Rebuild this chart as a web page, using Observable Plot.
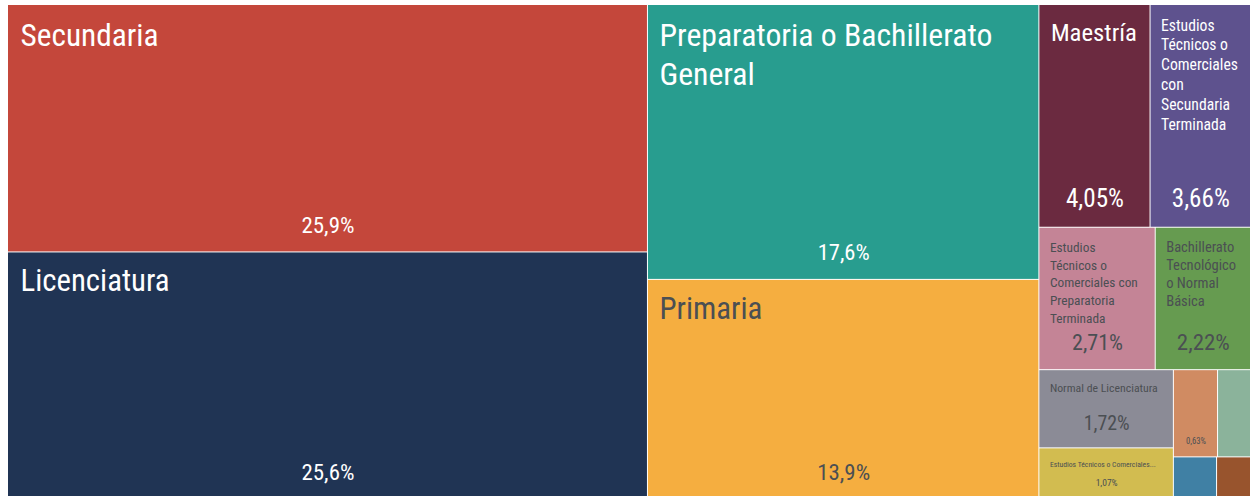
<!DOCTYPE html>
<html>
<head>
<meta charset="utf-8">
<script src="https://cdn.jsdelivr.net/npm/d3@7"></script>
<script src="https://cdn.jsdelivr.net/npm/@observablehq/plot@0.6"></script>
<style>
  html, body { margin: 0; padding: 0; background: #ffffff; }
  #chart svg { display: block; }
</style>
</head>
<body>
<div id="chart"></div>
<script>
// ---- data ----
const categories = [
  "Secundaria",
  "Licenciatura",
  "Preparatoria o Bachillerato General",
  "Primaria",
  "Maestría",
  "Estudios Técnicos o Comerciales con Secundaria Terminada",
  "Estudios Técnicos o Comerciales con Preparatoria Terminada",
  "Bachillerato Tecnológico o Normal Básica",
  "Normal de Licenciatura",
  "Estudios Técnicos o Comerciales con Primaria Terminada",
  "Especialidad",
  "Doctorado",
  "Ninguno",
  "Preescolar"
];
const shares = [25.9, 25.6, 17.6, 13.9, 4.05, 3.66, 2.71, 2.22, 1.72, 1.07, 0.63, 0.47, 0.28, 0.22];
const colors = [
  "#C4473B", "#203454", "#289D8F", "#F5AE40", "#6B2A40", "#5E528E", "#C48496",
  "#669B50", "#8B8B96", "#D2BC50", "#D08B62", "#8BB39B", "#4080A4", "#98542D"
];
// text shown inside each cell (line breaks as drawn); null = no name shown
const shownNames = [
  "Secundaria",
  "Licenciatura",
  "Preparatoria o Bachillerato\nGeneral",
  "Primaria",
  "Maestría",
  "Estudios\nTécnicos o\nComerciales\ncon\nSecundaria\nTerminada",
  "Estudios\nTécnicos o\nComerciales con\nPreparatoria\nTerminada",
  "Bachillerato\nTecnológico\no Normal\nBásica",
  "Normal de Licenciatura",
  "Estudios Técnicos o Comerciales...",
  null, null, null, null
];
const showShare = [true, true, true, true, true, true, true, true, true, true, true, false, false, false];

// ---- label styling (separate from data) ----
// w: pixel width of the widest line, b: first baseline below cell top,
// ls: line spacing (px), dx: left inset
const nameStyle = [
  {w: 138, b: 40, ls: 40, dx: 12},
  {w: 149, b: 38, ls: 40, dx: 12},
  {w: 333, b: 40, ls: 40, dx: 11},
  {w: 103, b: 39, ls: 40, dx: 11},
  {w: 86,  b: 35, ls: 30, dx: 11},
  {w: 77,  b: 25, ls: 20, dx: 10},
  {w: 88,  b: 24, ls: 17.6, dx: 10},
  {w: 70,  b: 24, ls: 18, dx: 10},
  {w: 108, b: 21, ls: 14, dx: 10},
  {w: 106, b: 18, ls: 10, dx: 10}
];
// w: pixel width of the share label, b: baseline above cell bottom
const shareStyle = [
  {w: 53, b: 19}, {w: 53, b: 17}, {w: 52, b: 19}, {w: 53, b: 17},
  {w: 58, b: 20}, {w: 58, b: 20}, {w: 51, b: 20}, {w: 53, b: 20},
  {w: 46, b: 18}, {w: 22, b: 11}, {w: 20, b: 13}
];

const W = 1250, H = 496;
const padLeft = 8, padTop = 5;
const innerW = W - padLeft, innerH = H - padTop;

// ---- pick the narrowest available sans close to the reference's condensed face ----
function textWidth(str, family, stretch) {
  const svg = d3.select("body").append("svg").attr("width", 1).attr("height", 1)
    .style("position", "absolute").style("left", "-9999px");
  const t = svg.append("text").attr("font-size", 100)
    .style("font-family", family).style("font-stretch", stretch).text(str);
  const w = t.node().getComputedTextLength();
  svg.remove();
  return w / 100;
}
const candidates = [
  {family: "'Fira Sans Condensed'", stretch: "normal"},
  {family: "'Liberation Sans Narrow'", stretch: "normal"},
  {family: "'DejaVu Sans Condensed'", stretch: "normal"},
  {family: "'Roboto Condensed'", stretch: "normal"},
  {family: "'Open Sans'", stretch: "75%"},
  {family: "'Noto Sans'", stretch: "75%"},
  {family: "Roboto", stretch: "75%"},
  {family: "'DejaVu Sans'", stretch: "condensed"},
  {family: "'Liberation Sans'", stretch: "condensed"},
  {family: "Lato", stretch: "normal"},
  {family: "Roboto", stretch: "normal"}
];
const targetEm = 9.9; // "Preparatoria o Bachillerato" width in em (cap height ~0.715em)
let chosen = candidates[candidates.length - 1], best = Infinity;
for (const c of candidates) {
  const w = textWidth("Preparatoria o Bachillerato", c.family, c.stretch);
  const err = Math.abs(w - targetEm);
  if (err < best - 0.05) { best = err; chosen = c; }
}
const FONT = chosen.family + ", sans-serif";
const fitSize = (str, px) => px / textWidth(str, FONT, chosen.stretch);

// ---- treemap layout (d3 squarify) ----
const table = categories.map((name, i) => ({name, value: shares[i], color: colors[i], i}));
const root = d3.hierarchy({children: table}).sum(d => d.value || 0).sort((a, b) => b.value - a.value);
d3.treemap().size([innerW, innerH]).tile(d3.treemapSquarify).paddingInner(1).round(false)(root);
const cells = root.leaves().map(l => ({...l.data, x0: l.x0, x1: l.x1, y0: l.y0, y1: l.y1}));

function yiqLight(c) {
  const {r, g, b} = d3.rgb(c);
  return (r * 299 + g * 587 + b * 114) / 1000 >= 128;
}
const textColor = c => yiqLight(c) ? "#4b4f53" : "#ffffff";
const fmt = v => d3.format(".3~r")(v).replace(".", ",") + "%";

const marks = [
  Plot.rect(cells, {
    x1: "x0", x2: "x1", y1: "y0", y2: "y1",
    fill: "color", title: d => `${d.name}: ${fmt(d.value)}`
  })
];

for (const c of cells) {
  const i = c.i;
  if (shownNames[i]) {
    const s = nameStyle[i];
    const lines = shownNames[i].split("\n");
    const widest = lines.reduce((a, l) => textWidth(l, FONT, chosen.stretch) > textWidth(a, FONT, chosen.stretch) ? l : a, lines[0]);
    const fs = fitSize(widest, s.w);
    const lh = s.ls / fs;
    marks.push(Plot.text([c], {
      x: "x0", y: "y0", text: () => shownNames[i],
      textAnchor: "start", lineAnchor: "top",
      dx: s.dx, dy: s.b - 0.71 * s.ls, fontSize: fs, lineHeight: lh,
      fill: textColor(c.color), fontFamily: FONT
    }));
  }
  if (showShare[i]) {
    const s = shareStyle[i];
    const label = fmt(c.value);
    const fs = fitSize(label, s.w);
    marks.push(Plot.text([c], {
      x: d => (d.x0 + d.x1) / 2, y: "y1", text: d => fmt(d.value),
      textAnchor: "middle", lineAnchor: "bottom",
      dy: -s.b, fontSize: fs,
      fill: textColor(c.color), fontFamily: FONT
    }));
  }
}

const chart = Plot.plot({
  width: W, height: H,
  margin: 0,
  x: {domain: [0, innerW], range: [padLeft, W], axis: null},
  y: {domain: [0, innerH], range: [padTop, H], axis: null},
  style: `background: #ffffff; font-family: ${FONT}; font-stretch: ${chosen.stretch};`,
  marks
});
document.getElementById("chart").append(chart);
</script>
</body>
</html>
